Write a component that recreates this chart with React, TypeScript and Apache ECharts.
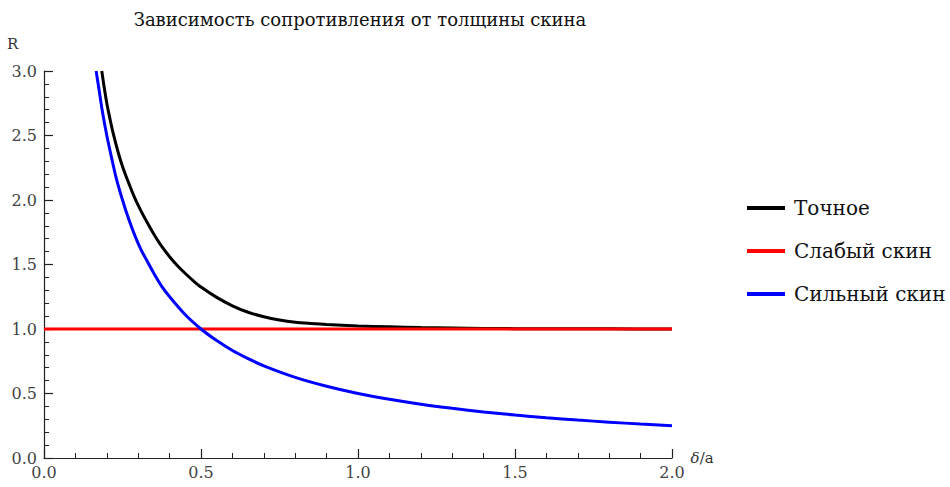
import React, { useEffect, useRef } from "react";
import * as echarts from "echarts";

const titleText = "Зависимость сопротивления от толщины скина";
const seriesNames = ["Точное", "Слабый скин", "Сильный скин"];
const seriesColors = ["#000000", "#ff0000", "#0000ff"];

// Точное (exact)
const exactX = [0.184, 0.19, 0.2, 0.21, 0.22, 0.235, 0.25, 0.27, 0.29, 0.31, 0.33, 0.35, 0.375, 0.4, 0.425, 0.45, 0.475, 0.5, 0.55, 0.6, 0.65, 0.7, 0.75, 0.8, 0.85, 0.9, 1.0, 1.1, 1.2, 1.3, 1.4, 1.6, 1.8, 2.0];
const exactY = [3.0, 2.9, 2.75, 2.63, 2.52, 2.38, 2.26, 2.13, 2.01, 1.91, 1.82, 1.735, 1.64, 1.56, 1.49, 1.43, 1.375, 1.325, 1.245, 1.18, 1.13, 1.095, 1.07, 1.053, 1.043, 1.035, 1.024, 1.017, 1.011, 1.007, 1.004, 1.002, 1.001, 1.0];

// Слабый скин (weak skin)
const weakX = [0, 2.0];
const weakY = [1.0, 1.0];

// Сильный скин (strong skin)
const strongX = [0.166, 0.175, 0.185, 0.2, 0.215, 0.23, 0.25, 0.27, 0.29, 0.31, 0.33, 0.35, 0.375, 0.4, 0.45, 0.5, 0.55, 0.6, 0.65, 0.7, 0.8, 0.9, 1.0, 1.1, 1.2, 1.3, 1.4, 1.5, 1.6, 1.7, 1.8, 1.9, 2.0];
const strongY = [3.0, 2.86, 2.7, 2.5, 2.33, 2.17, 2.0, 1.85, 1.72, 1.61, 1.52, 1.43, 1.33, 1.25, 1.11, 1.0, 0.91, 0.833, 0.77, 0.714, 0.625, 0.556, 0.5, 0.455, 0.417, 0.385, 0.357, 0.333, 0.312, 0.294, 0.278, 0.263, 0.25];

const xTicks = [0, 0.5, 1.0, 1.5, 2.0];
const yTicks = [0, 0.5, 1.0, 1.5, 2.0, 2.5, 3.0];

const FONT = "DejaVu Serif";

function pairs(xs: number[], ys: number[]) {
  return xs.map((x, i) => [x, ys[i]]);
}

export default function App() {
  const ref = useRef<HTMLDivElement>(null);
  useEffect(() => {
    if (!ref.current) return;
    const chart = echarts.init(ref.current, undefined, { renderer: "svg" });
    const axisCommon = {
      axisLine: { show: true, lineStyle: { color: "#222", width: 1.2 } },
      axisTick: { show: true, inside: true, length: 9, lineStyle: { color: "#222", width: 1.2 } },
      minorTick: { show: true, splitNumber: 5, length: 5, lineStyle: { color: "#222", width: 1 } },
      splitLine: { show: false },
      minorSplitLine: { show: false },
    };
    chart.setOption({
      animation: false,
      backgroundColor: "#ffffff",
      title: {
        text: titleText,
        left: 355,
        top: 5,
        textAlign: "center",
        textStyle: { fontFamily: FONT, fontSize: 18, fontWeight: "normal", color: "#111" },
      },
      legend: {
        orient: "vertical",
        left: 742,
        top: 191,
        itemWidth: 38,
        itemHeight: 4,
        itemGap: 19,
        icon: "rect",
        data: seriesNames,
        textStyle: { fontFamily: FONT, fontSize: 20, color: "#111", lineHeight: 24, padding: [0, 0, 0, 4] },
      },
      grid: { left: 44, right: 278, top: 71, bottom: 29, containLabel: false },
      xAxis: {
        type: "value",
        min: 0,
        max: 2,
        interval: 0.5,
        name: "{i|δ}/a",
        nameLocation: "end",
        nameGap: 13,
        nameTextStyle: {
          fontFamily: FONT,
          fontSize: 15,
          color: "#333",
          verticalAlign: "middle",
          rich: { i: { fontFamily: FONT, fontSize: 15, fontStyle: "italic", color: "#333" } },
        },
        ...axisCommon,
        axisLabel: {
          fontFamily: FONT,
          fontSize: 16,
          color: "#444",
          margin: 6,
          formatter: (v: number) => (xTicks.includes(v) ? v.toFixed(1) : ""),
        },
      },
      yAxis: {
        type: "value",
        min: 0,
        max: 3,
        interval: 0.5,
        ...axisCommon,
        axisLabel: {
          fontFamily: FONT,
          fontSize: 16,
          color: "#444",
          margin: 7,
          formatter: (v: number) => (yTicks.includes(v) ? v.toFixed(1) : ""),
        },
      },
      graphic: [
        {
          type: "text",
          left: 7,
          top: 36,
          style: { text: "R", fontFamily: FONT, fontSize: 15, fill: "#333" },
        },
      ],
      series: [
        {
          name: seriesNames[0],
          type: "line",
          data: pairs(exactX, exactY),
          smooth: 0.3,
          showSymbol: false,
          clip: true,
          lineStyle: { color: seriesColors[0], width: 3 },
          itemStyle: { color: seriesColors[0] },
          z: 3,
        },
        {
          name: seriesNames[1],
          type: "line",
          data: pairs(weakX, weakY),
          showSymbol: false,
          clip: true,
          lineStyle: { color: seriesColors[1], width: 3 },
          itemStyle: { color: seriesColors[1] },
          z: 4,
        },
        {
          name: seriesNames[2],
          type: "line",
          data: pairs(strongX, strongY),
          smooth: 0.3,
          showSymbol: false,
          clip: true,
          lineStyle: { color: seriesColors[2], width: 3 },
          itemStyle: { color: seriesColors[2] },
          z: 5,
        },
      ],
    });
    return () => chart.dispose();
  }, []);
  return (
    <div
      ref={ref}
      style={{ position: "fixed", left: 0, top: 0, width: 950, height: 487, background: "#fff" }}
    />
  );
}
